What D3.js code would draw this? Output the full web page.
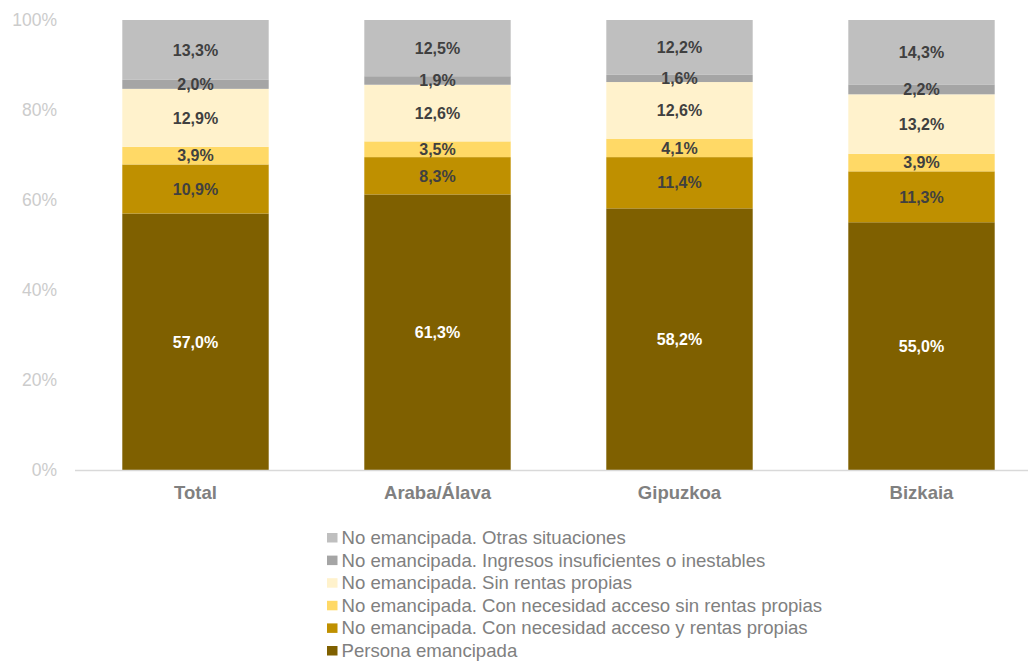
<!DOCTYPE html>
<html>
<head>
<meta charset="utf-8">
<script src="https://cdn.jsdelivr.net/npm/d3@7"></script>
<style>
	body { margin: 0; background: #fff; }
	svg { font-family: Arial, "Liberation Sans", sans-serif; }
</style>
</head>
<body>
<svg id="chart" width="1028" height="662"></svg>
<script>
'use strict';

var categories = ['Total', 'Araba/Álava', 'Gipuzkoa', 'Bizkaia'];

// bottom to top
var seriesNames = [
	'Persona emancipada',
	'No emancipada. Con necesidad acceso y rentas propias',
	'No emancipada. Con necesidad acceso sin rentas propias',
	'No emancipada. Sin rentas propias',
	'No emancipada. Ingresos insuficientes o inestables',
	'No emancipada. Otras situaciones'
];
var emancipada   = [57.0, 61.3, 58.2, 55.0];
var accesoRentas = [10.9, 8.3, 11.4, 11.3];
var accesoSin    = [3.9, 3.5, 4.1, 3.9];
var sinRentas    = [12.9, 12.6, 12.6, 13.2];
var insuficiente = [2.0, 1.9, 1.6, 2.2];
var otras        = [13.3, 12.5, 12.2, 14.3];
var yTicks = [0, 20, 40, 60, 80, 100];

var seriesValues = [emancipada, accesoRentas, accesoSin, sinRentas, insuficiente, otras];
var colors = ['#7F6000', '#BF9000', '#FFD966', '#FFF2CC', '#A5A5A5', '#BFBFBF'];
var labelColors = ['#ffffff', '#404040', '#404040', '#404040', '#404040', '#404040'];

var svg = d3.select('#chart');

var x = d3.scaleBand()
	.domain(categories)
	.range([74.5, 1042.5])
	.paddingInner(0.395)
	.paddingOuter(0.1975);

var y = d3.scaleLinear()
	.domain([0, 100])
	.range([470, 20]);

// y tick labels
svg.append('g').selectAll('text')
	.data(yTicks)
	.enter().append('text')
	.attr('x', 57)
	.attr('y', function (d) { return y(d); })
	.attr('dy', '0.35em')
	.attr('text-anchor', 'end')
	.style('font-size', '17.5px')
	.style('fill', '#CCCCCC')
	.text(function (d) { return d + '%'; });

// stacked data, normalised to 100
var rows = categories.map(function (c, i) {
	var total = d3.sum(seriesValues, function (s) { return s[i]; });
	var y0 = 0;
	return seriesValues.map(function (s, k) {
		var v = s[i] * 100 / total;
		var o = { cat: c, k: k, value: s[i], y0: y0, y1: y0 + v };
		y0 += v;
		return o;
	});
});
var segs = Array.prototype.concat.apply([], rows);

svg.append('g').selectAll('rect')
	.data(segs)
	.enter().append('rect')
	.attr('x', function (d) { return x(d.cat); })
	.attr('width', x.bandwidth())
	.attr('y', function (d) { return y(d.y1); })
	.attr('height', function (d) { return y(d.y0) - y(d.y1); })
	.style('fill', function (d) { return colors[d.k]; });

// axis line
svg.append('line')
	.attr('x1', 75).attr('x2', 1028)
	.attr('y1', y(0) + 0.5).attr('y2', y(0) + 0.5)
	.style('stroke', '#D9D9D9')
	.style('stroke-width', 1.5);

// value labels
var fmt = function (v) { return v.toFixed(1).replace('.', ',') + '%'; };

svg.append('g').selectAll('text')
	.data(segs)
	.enter().append('text')
	.attr('x', function (d) { return x(d.cat) + x.bandwidth() / 2; })
	.attr('y', function (d) { return y((d.y0 + d.y1) / 2); })
	.attr('dy', '0.36em')
	.attr('text-anchor', 'middle')
	.style('font-size', '16px')
	.style('font-weight', 'bold')
	.style('fill', function (d) { return labelColors[d.k]; })
	.text(function (d) { return fmt(d.value); });

// category labels
svg.append('g').selectAll('text')
	.data(categories)
	.enter().append('text')
	.attr('x', function (d) { return x(d) + x.bandwidth() / 2; })
	.attr('y', 499)
	.attr('text-anchor', 'middle')
	.style('font-size', '18.5px')
	.style('font-weight', 'bold')
	.style('fill', '#808080')
	.text(function (d) { return d; });

// legend, top entry first
var legendItems = d3.range(seriesNames.length).reverse();
var legend = svg.append('g').selectAll('g')
	.data(legendItems)
	.enter().append('g')
	.attr('transform', function (d, i) { return 'translate(327,' + (544 + i * 22.6) + ')'; });

legend.append('rect')
	.attr('x', 0).attr('y', -11)
	.attr('width', 10.5).attr('height', 9.5)
	.style('fill', function (d) { return colors[d]; });

legend.append('text')
	.attr('x', 14.5)
	.style('font-size', '18.6px')
	.style('fill', '#808080')
	.text(function (d) { return seriesNames[d]; });
</script>
</body>
</html>
